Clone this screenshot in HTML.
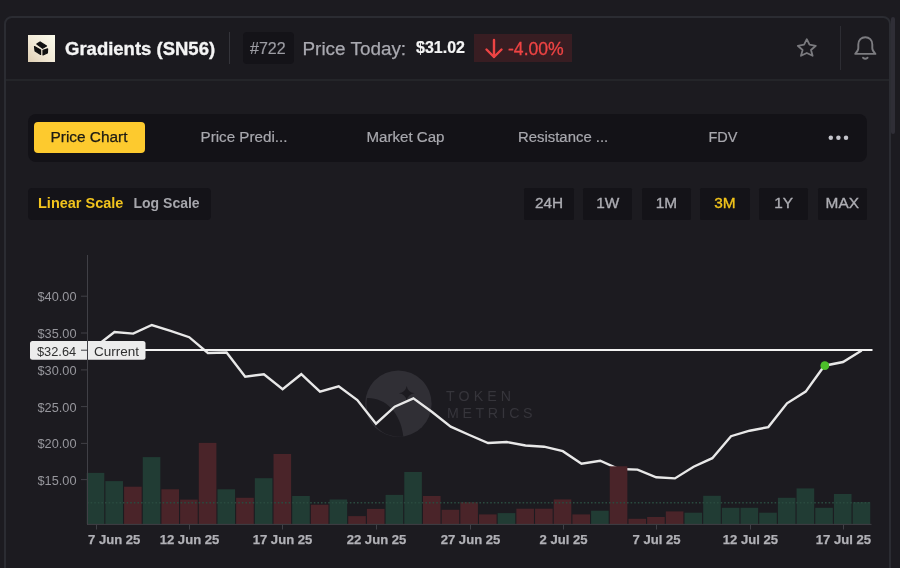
<!DOCTYPE html>
<html><head><meta charset="utf-8">
<style>
html,body{margin:0;padding:0;width:900px;height:568px;overflow:hidden;background:#1c1b20;font-family:"Liberation Sans",sans-serif;}
#root{position:absolute;left:0;top:0;width:900px;height:568px;will-change:transform;}
.a{position:absolute;white-space:nowrap;}
#card{position:absolute;left:4px;top:16px;width:883px;height:600px;border:2px solid #2b2c32;border-radius:8px;box-sizing:content-box;}
#hdiv{position:absolute;left:6px;top:79px;width:883px;height:2px;background:#242529;}
#hbg{position:absolute;left:6px;top:18px;width:883px;height:61px;background:#1b1a1f;border-radius:6px 6px 0 0;}
#thumb{position:absolute;left:891px;top:17px;width:4px;height:117px;background:#2f2e36;border-radius:2px;}
#logo{left:28px;top:35px;width:27px;height:27px;background:linear-gradient(45deg,#dfcfb3 0%,#f1e9d6 45%,#fbfbec 100%);}
.t{line-height:1;}
</style></head><body><div id="root">
<div id="hbg"></div>
<div id="card"></div>
<div id="hdiv"></div>
<div id="thumb"></div>
<div class="a" id="logo">
<svg width="27" height="27" viewBox="0 0 27 27" style="position:absolute;left:0;top:0">
<g fill="#111" stroke="#111" stroke-width="1.2" stroke-linejoin="round">
<path d="M8.8 9.1 L12.1 6.9 L18.5 11.1 L14.6 13.3 Z"/>
<path d="M6.5 11.5 L12.6 14.9 L12.6 19.4 L7.1 16.1 Z"/>
<path d="M15 15.4 L19.6 13.9 L19.4 18 L15 20 Z"/>
</g>
</svg></div>
<div class="a t" style="left:65px;top:39.5px;font-size:18.5px;font-weight:bold;color:#f4f4f4;-webkit-text-stroke:0.35px #f4f4f4;">Gradients (SN56)</div>
<div class="a" style="left:229px;top:32px;width:1.2px;height:32px;background:#34343a;"></div>
<div class="a" style="left:243px;top:32px;width:51px;height:32px;background:#141318;border-radius:4px;"></div>
<div class="a t" style="left:250px;top:40.7px;font-size:16px;color:#9c9ca3;-webkit-text-stroke:0.2px #9c9ca3;">#722</div>
<div class="a t" style="left:302.5px;top:39.9px;font-size:18.9px;color:#a9a9b0;-webkit-text-stroke:0.25px #a9a9b0;">Price Today:</div>
<div class="a t" style="left:416px;top:40px;font-size:16px;-webkit-text-stroke:0.2px #f4f4f4;font-weight:bold;color:#f4f4f4;">$31.02</div>
<div class="a" style="left:474px;top:34px;width:98px;height:28px;background:#381d22;"></div>
<svg class="a" style="left:480px;top:36px" width="28" height="24" viewBox="0 0 28 24">
<path d="M14 4 V21 M6.5 13.5 L14 21 L21.5 13.5" stroke="#ef4444" stroke-width="2.4" fill="none" stroke-linecap="round" stroke-linejoin="round"/></svg>
<div class="a t" style="left:508px;top:40.5px;font-size:17.6px;color:#ef4444;-webkit-text-stroke:0.3px #ef4444;">-4.00%</div>
<svg class="a" style="left:794px;top:35px" width="26" height="26" viewBox="0 0 26 26">
<path d="M12.8 4.2 L15.5 9.6 L21.8 10.8 L17 15 L18.6 20.8 L12.8 18 L7 20.8 L8.6 15 L3.8 10.8 L10.1 9.6 Z" stroke="#7a7a7e" stroke-width="1.8" fill="none" stroke-linejoin="round"/></svg>
<div class="a" style="left:840.2px;top:26px;width:1px;height:44px;background:#2d2d33;"></div>
<svg class="a" style="left:850px;top:32px" width="30" height="32" viewBox="0 0 30 32">
<path d="M5.2 21.9 H25.4 C23.8 20.2 22.3 18.4 22.3 16.3 V12.5 C22.3 8 19.2 5.2 15.3 5.2 C11.4 5.2 8.3 8 8.3 12.5 V16.3 C8.3 18.4 6.8 20.2 5.2 21.9 Z" stroke="#7c7c80" stroke-width="1.9" fill="none" stroke-linejoin="round"/>
<path d="M13 25.7 Q15.3 27.7 17.6 25.7" stroke="#7c7c80" stroke-width="1.8" fill="none" stroke-linecap="round"/></svg>

<div class="a" style="left:28px;top:114px;width:839px;height:47.5px;background:#131217;border-radius:8px;"></div>
<div class="a" style="left:34px;top:122px;width:111px;height:31px;background:#fdca2e;border-radius:4px;"></div>
<div class="a t" style="left:50.5px;top:129px;font-size:15.4px;color:#1c1a14;-webkit-text-stroke:0.25px #1c1a14;">Price Chart</div>
<div class="a t" style="left:200.5px;top:129px;font-size:15.2px;color:#a8a8ae;-webkit-text-stroke:0.2px #a8a8ae;">Price Predi...</div>
<div class="a t" style="left:366.5px;top:129px;font-size:15.1px;color:#a8a8ae;-webkit-text-stroke:0.2px #a8a8ae;">Market Cap</div>
<div class="a t" style="left:518px;top:129.7px;font-size:14.9px;color:#a8a8ae;-webkit-text-stroke:0.2px #a8a8ae;">Resistance ...</div>
<div class="a t" style="left:708.5px;top:130px;font-size:14.5px;color:#a8a8ae;-webkit-text-stroke:0.2px #a8a8ae;">FDV</div>
<svg class="a" style="left:820px;top:130px" width="36" height="16"><circle cx="10.8" cy="7.8" r="2.25" fill="#c4c4cb"/><circle cx="18.4" cy="7.8" r="2.25" fill="#c4c4cb"/><circle cx="26" cy="7.8" r="2.25" fill="#c4c4cb"/></svg>

<div class="a" style="left:28px;top:188px;width:183px;height:32px;background:#141318;border-radius:4px;"></div>
<div class="a t" style="left:38px;top:195.5px;font-size:14.5px;font-weight:bold;color:#f2c41d;">Linear Scale</div>
<div class="a t" style="left:133.5px;top:195.5px;font-size:14px;font-weight:bold;color:#a6a6ac;">Log Scale</div>
<div class="a" style="left:524.3px;top:188.4px;width:49.6px;height:31.4px;background:#141318;border-radius:1.5px;"></div>
<div class="a t" style="left:524.3px;top:195px;width:49.6px;text-align:center;font-size:15.4px;color:#adadb3;-webkit-text-stroke:0.35px #adadb3;">24H</div>
<div class="a" style="left:582.9px;top:188.4px;width:49.6px;height:31.4px;background:#141318;border-radius:1.5px;"></div>
<div class="a t" style="left:582.9px;top:195px;width:49.6px;text-align:center;font-size:15.4px;color:#adadb3;-webkit-text-stroke:0.35px #adadb3;">1W</div>
<div class="a" style="left:641.6px;top:188.4px;width:49.6px;height:31.4px;background:#141318;border-radius:1.5px;"></div>
<div class="a t" style="left:641.6px;top:195px;width:49.6px;text-align:center;font-size:15.4px;color:#adadb3;-webkit-text-stroke:0.35px #adadb3;">1M</div>
<div class="a" style="left:700.2px;top:188.4px;width:49.6px;height:31.4px;background:#141318;border-radius:1.5px;"></div>
<div class="a t" style="left:700.2px;top:195px;width:49.6px;text-align:center;font-size:15.4px;color:#f2c41b;-webkit-text-stroke:0.35px #f2c41b;">3M</div>
<div class="a" style="left:758.9px;top:188.4px;width:49.6px;height:31.4px;background:#141318;border-radius:1.5px;"></div>
<div class="a t" style="left:758.9px;top:195px;width:49.6px;text-align:center;font-size:15.4px;color:#adadb3;-webkit-text-stroke:0.35px #adadb3;">1Y</div>
<div class="a" style="left:817.5px;top:188.4px;width:49.6px;height:31.4px;background:#141318;border-radius:1.5px;"></div>
<div class="a t" style="left:817.5px;top:195px;width:49.6px;text-align:center;font-size:15.4px;color:#adadb3;-webkit-text-stroke:0.35px #adadb3;">MAX</div>
<svg class="a" style="left:0;top:0" width="900" height="568" viewBox="0 0 900 568">
<g>
<circle cx="398.4" cy="403.7" r="33.2" fill="#302f35"/>
<path d="M367 398 C385 397.5 400.5 412 403.3 436.6 A33.2 33.2 0 0 1 367 398 Z" fill="#1c1b20"/>
<path d="M406.7 386 Q407.8 392.2 414.5 393.3 Q407.8 394.4 406.7 400.6 Q405.6 394.4 398.9 393.3 Q405.6 392.2 406.7 386 Z" fill="#1c1b20"/>
<text x="446" y="400.7" font-family="Liberation Sans" font-size="14.2" letter-spacing="4.1" fill="#36353b">TOKEN</text>
<text x="447" y="418.4" font-family="Liberation Sans" font-size="14.2" letter-spacing="3.6" fill="#36353b">METRICS</text>
</g>
<polyline points="95.8,346.5 114.5,332.0 133.2,333.6 151.8,325.0 170.5,330.8 189.2,337.2 207.9,353.0 226.6,352.5 245.2,376.7 263.9,374.2 282.6,389.2 301.3,374.2 320.0,391.7 338.7,386.3 357.3,400.0 376.0,423.7 394.7,406.7 413.4,398.3 432.1,412.0 450.7,426.7 469.4,435.0 488.1,443.0 506.8,442.0 525.5,445.5 544.1,446.7 562.8,451.2 581.5,463.7 600.2,460.7 618.9,469.0 637.5,469.6 656.2,477.3 674.9,478.4 693.6,466.7 712.3,458.2 731.0,436.2 749.6,430.7 768.3,427.1 787.0,403.3 805.7,391.6 824.4,365.7 843.0,362.0 861.7,350.5" fill="none" stroke="#e8e8e8" stroke-width="2.4" stroke-linejoin="miter"/>
<rect x="86.70" y="472.9" width="17.6" height="51.1" fill="#213c34"/>
<rect x="105.38" y="481.1" width="17.6" height="42.9" fill="#213c34"/>
<rect x="124.06" y="486.7" width="17.6" height="37.3" fill="#4a2429"/>
<rect x="142.74" y="457.1" width="17.6" height="66.9" fill="#213c34"/>
<rect x="161.42" y="489.3" width="17.6" height="34.7" fill="#4a2429"/>
<rect x="180.10" y="499.6" width="17.6" height="24.4" fill="#4a2429"/>
<rect x="198.79" y="442.9" width="17.6" height="81.1" fill="#4a2429"/>
<rect x="217.47" y="489.3" width="17.6" height="34.7" fill="#213c34"/>
<rect x="236.15" y="497.8" width="17.6" height="26.2" fill="#4a2429"/>
<rect x="254.83" y="478.2" width="17.6" height="45.8" fill="#213c34"/>
<rect x="273.51" y="454.0" width="17.6" height="70.0" fill="#4a2429"/>
<rect x="292.19" y="496.0" width="17.6" height="28.0" fill="#213c34"/>
<rect x="310.87" y="504.7" width="17.6" height="19.3" fill="#4a2429"/>
<rect x="329.55" y="499.5" width="17.6" height="24.5" fill="#213c34"/>
<rect x="348.23" y="516.1" width="17.6" height="7.9" fill="#4a2429"/>
<rect x="366.92" y="508.9" width="17.6" height="15.1" fill="#4a2429"/>
<rect x="385.60" y="494.9" width="17.6" height="29.1" fill="#213c34"/>
<rect x="404.28" y="472.0" width="17.6" height="52.0" fill="#213c34"/>
<rect x="422.96" y="496.0" width="17.6" height="28.0" fill="#4a2429"/>
<rect x="441.64" y="509.8" width="17.6" height="14.2" fill="#4a2429"/>
<rect x="460.32" y="502.3" width="17.6" height="21.7" fill="#4a2429"/>
<rect x="479.00" y="514.4" width="17.6" height="9.6" fill="#4a2429"/>
<rect x="497.68" y="513.1" width="17.6" height="10.9" fill="#213c34"/>
<rect x="516.36" y="508.7" width="17.6" height="15.3" fill="#4a2429"/>
<rect x="535.04" y="508.7" width="17.6" height="15.3" fill="#4a2429"/>
<rect x="553.73" y="499.4" width="17.6" height="24.6" fill="#4a2429"/>
<rect x="572.41" y="514.4" width="17.6" height="9.6" fill="#4a2429"/>
<rect x="591.09" y="510.7" width="17.6" height="13.3" fill="#213c34"/>
<rect x="609.77" y="466.3" width="17.6" height="57.7" fill="#4a2429"/>
<rect x="628.45" y="518.8" width="17.6" height="5.2" fill="#4a2429"/>
<rect x="647.13" y="517.0" width="17.6" height="7.0" fill="#4a2429"/>
<rect x="665.81" y="511.4" width="17.6" height="12.6" fill="#4a2429"/>
<rect x="684.49" y="512.7" width="17.6" height="11.3" fill="#213c34"/>
<rect x="703.17" y="495.8" width="17.6" height="28.2" fill="#213c34"/>
<rect x="721.85" y="507.8" width="17.6" height="16.2" fill="#213c34"/>
<rect x="740.54" y="507.8" width="17.6" height="16.2" fill="#213c34"/>
<rect x="759.22" y="512.7" width="17.6" height="11.3" fill="#213c34"/>
<rect x="777.90" y="497.8" width="17.6" height="26.2" fill="#213c34"/>
<rect x="796.58" y="488.4" width="17.6" height="35.6" fill="#213c34"/>
<rect x="815.26" y="507.8" width="17.6" height="16.2" fill="#213c34"/>
<rect x="833.94" y="494.0" width="17.6" height="30.0" fill="#213c34"/>
<rect x="852.62" y="502.2" width="17.6" height="21.8" fill="#213c34"/>
<line x1="87" y1="502.7" x2="871" y2="502.7" stroke="#2a4a3f" stroke-width="1.5" stroke-dasharray="1.6 2"/>
<line x1="145" y1="350" x2="872.5" y2="350" stroke="#f2f2f2" stroke-width="2"/>
<rect x="30" y="341" width="115.5" height="18.8" rx="2.5" fill="#ececec"/>
<text x="37" y="355.6" font-family="Liberation Sans" font-size="12.8" fill="#2f2f2f">$32.64</text>
<text x="94" y="355.6" font-family="Liberation Sans" font-size="13.5" fill="#2f2f2f">Current</text>
<line x1="87.5" y1="255" x2="87.5" y2="525" stroke="#404046" stroke-width="1"/>
<line x1="87" y1="524.4" x2="871.5" y2="524.4" stroke="#404046" stroke-width="1"/>
<line x1="81" y1="296.2" x2="87.5" y2="296.2" stroke="#404046" stroke-width="1"/>
<text x="76.5" y="301.1" text-anchor="end" textLength="39" lengthAdjust="spacingAndGlyphs" font-family="Liberation Sans" font-size="12.6" fill="#97979d">$40.00</text>
<line x1="81" y1="333.0" x2="87.5" y2="333.0" stroke="#404046" stroke-width="1"/>
<text x="76.5" y="337.9" text-anchor="end" textLength="39" lengthAdjust="spacingAndGlyphs" font-family="Liberation Sans" font-size="12.6" fill="#97979d">$35.00</text>
<line x1="81" y1="369.9" x2="87.5" y2="369.9" stroke="#404046" stroke-width="1"/>
<text x="76.5" y="374.8" text-anchor="end" textLength="39" lengthAdjust="spacingAndGlyphs" font-family="Liberation Sans" font-size="12.6" fill="#97979d">$30.00</text>
<line x1="81" y1="406.6" x2="87.5" y2="406.6" stroke="#404046" stroke-width="1"/>
<text x="76.5" y="411.5" text-anchor="end" textLength="39" lengthAdjust="spacingAndGlyphs" font-family="Liberation Sans" font-size="12.6" fill="#97979d">$25.00</text>
<line x1="81" y1="443.4" x2="87.5" y2="443.4" stroke="#404046" stroke-width="1"/>
<text x="76.5" y="448.3" text-anchor="end" textLength="39" lengthAdjust="spacingAndGlyphs" font-family="Liberation Sans" font-size="12.6" fill="#97979d">$20.00</text>
<line x1="81" y1="479.6" x2="87.5" y2="479.6" stroke="#404046" stroke-width="1"/>
<text x="76.5" y="484.5" text-anchor="end" textLength="39" lengthAdjust="spacingAndGlyphs" font-family="Liberation Sans" font-size="12.6" fill="#97979d">$15.00</text>
<line x1="81" y1="350.2" x2="87.5" y2="350.2" stroke="#404046" stroke-width="1"/>
<line x1="96.5" y1="524.5" x2="96.5" y2="529.5" stroke="#404046" stroke-width="1"/>
<text x="88.0" y="544.3" text-anchor="start" font-family="Liberation Sans" font-weight="bold" font-size="13.1" fill="#b1b1b6" stroke="#b1b1b6" stroke-width="0.25">7 Jun 25</text>
<line x1="189.5" y1="524.5" x2="189.5" y2="529.5" stroke="#404046" stroke-width="1"/>
<text x="189.5" y="544.3" text-anchor="middle" font-family="Liberation Sans" font-weight="bold" font-size="13.1" fill="#b1b1b6" stroke="#b1b1b6" stroke-width="0.25">12 Jun 25</text>
<line x1="282.5" y1="524.5" x2="282.5" y2="529.5" stroke="#404046" stroke-width="1"/>
<text x="282.5" y="544.3" text-anchor="middle" font-family="Liberation Sans" font-weight="bold" font-size="13.1" fill="#b1b1b6" stroke="#b1b1b6" stroke-width="0.25">17 Jun 25</text>
<line x1="376.5" y1="524.5" x2="376.5" y2="529.5" stroke="#404046" stroke-width="1"/>
<text x="376.5" y="544.3" text-anchor="middle" font-family="Liberation Sans" font-weight="bold" font-size="13.1" fill="#b1b1b6" stroke="#b1b1b6" stroke-width="0.25">22 Jun 25</text>
<line x1="470.5" y1="524.5" x2="470.5" y2="529.5" stroke="#404046" stroke-width="1"/>
<text x="470.5" y="544.3" text-anchor="middle" font-family="Liberation Sans" font-weight="bold" font-size="13.1" fill="#b1b1b6" stroke="#b1b1b6" stroke-width="0.25">27 Jun 25</text>
<line x1="563.5" y1="524.5" x2="563.5" y2="529.5" stroke="#404046" stroke-width="1"/>
<text x="563.5" y="544.3" text-anchor="middle" font-family="Liberation Sans" font-weight="bold" font-size="13.1" fill="#b1b1b6" stroke="#b1b1b6" stroke-width="0.25">2 Jul 25</text>
<line x1="656.5" y1="524.5" x2="656.5" y2="529.5" stroke="#404046" stroke-width="1"/>
<text x="656.5" y="544.3" text-anchor="middle" font-family="Liberation Sans" font-weight="bold" font-size="13.1" fill="#b1b1b6" stroke="#b1b1b6" stroke-width="0.25">7 Jul 25</text>
<line x1="750.5" y1="524.5" x2="750.5" y2="529.5" stroke="#404046" stroke-width="1"/>
<text x="750.5" y="544.3" text-anchor="middle" font-family="Liberation Sans" font-weight="bold" font-size="13.1" fill="#b1b1b6" stroke="#b1b1b6" stroke-width="0.25">12 Jul 25</text>
<line x1="843.5" y1="524.5" x2="843.5" y2="529.5" stroke="#404046" stroke-width="1"/>
<text x="843.5" y="544.3" text-anchor="middle" font-family="Liberation Sans" font-weight="bold" font-size="13.1" fill="#b1b1b6" stroke="#b1b1b6" stroke-width="0.25">17 Jul 25</text>
<circle cx="824.8" cy="365.7" r="4.4" fill="#4cc02a"/>
</svg>
</div></body></html>
